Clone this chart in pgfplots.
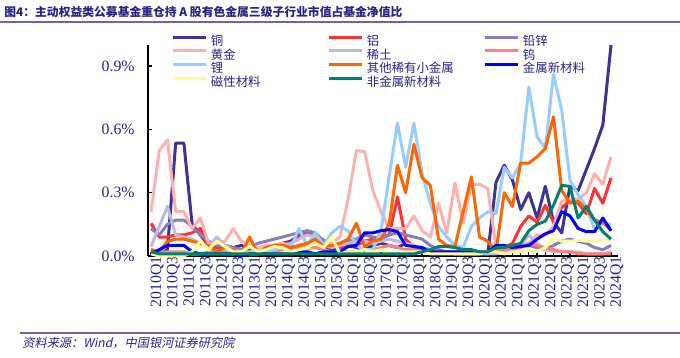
\documentclass[border=0pt]{standalone}
\usepackage{pgfplots}
\pgfplotsset{compat=1.18}
\usepackage{pgfplotstable}
\usepackage{fontspec}
\setmainfont{Liberation Serif}
\newfontfamily\cjk{Noto Sans CJK SC}
\newfontfamily\cjkit{Noto Sans CJK SC}[FakeSlant=0.2]
\definecolor{navy}{RGB}{38,38,130}
\definecolor{cCu}{RGB}{60,52,146}
\definecolor{cAl}{RGB}{255,51,51}
\definecolor{cPZ}{RGB}{136,126,190}
\definecolor{cAu}{RGB}{255,176,176}
\definecolor{cRE}{RGB}{190,185,222}
\definecolor{cW}{RGB}{255,128,128}
\definecolor{cLi}{RGB}{153,204,255}
\definecolor{cOM}{RGB}{255,102,0}
\definecolor{cMM}{RGB}{0,0,255}
\definecolor{cMag}{RGB}{255,255,153}
\definecolor{cNM}{RGB}{0,128,110}
\definecolor{rule}{RGB}{110,100,170}
\newcommand{\legtxt}[1]{\hspace*{1.5pt}\makebox[56pt][l]{\cjk #1}}

\pgfplotstableread{
i cu al pz au re w li om mm mag nm
0 0.02 0.155 0.13 0.21 0.045 0.03 0.01 0.03 0.01 0.01 0.02
1 0.01 0.09 0.10 0.50 0.14 0.02 0.01 0.02 0.03 0.00 0.01
2 0.03 0.09 0.15 0.55 0.235 0.02 0.01 0.07 0.05 0.00 0.01
3 0.535 0.10 0.17 0.21 0.10 0.02 0.01 0.08 0.05 0.00 0.01
4 0.535 0.10 0.17 0.21 0.09 0.02 0.01 0.08 0.05 0.00 0.01
5 0.15 0.11 0.14 0.13 0.08 0.01 0.01 0.07 0.02 0.02 0.01
6 0.10 0.13 0.10 0.18 0.06 0.01 0.01 0.06 0.01 0.07 0.01
7 0.05 0.04 0.07 0.06 0.04 0.02 0.01 0.05 0.01 0.03 0.01
8 0.04 0.04 0.05 0.06 0.09 0.02 0.01 0.02 0.01 0.07 0.01
9 0.05 0.04 0.05 0.07 0.05 0.02 0.01 0.04 0.01 0.045 0.01
10 0.04 0.03 0.04 0.13 0.03 0.01 0.01 0.03 0.01 0.02 0.01
11 0.05 0.02 0.03 0.07 0.02 0.01 0.01 0.01 0.00 0.02 0.01
12 0.03 0.02 0.04 0.05 0.02 0.01 0.01 0.09 0.01 0.045 0.01
13 0.02 0.03 0.06 0.04 0.03 0.01 0.01 0.01 0.01 0.02 0.01
14 0.03 0.04 0.07 0.05 0.03 0.02 0.02 0.04 0.01 0.03 0.01
15 0.04 0.05 0.08 0.05 0.04 0.02 0.03 0.05 0.01 0.045 0.01
16 0.06 0.06 0.09 0.06 0.05 0.03 0.04 0.05 0.01 0.04 0.01
17 0.07 0.06 0.10 0.05 0.06 0.03 0.04 0.04 0.01 0.02 0.01
18 0.10 0.09 0.11 0.04 0.08 0.04 0.13 0.05 0.02 0.03 0.01
19 0.11 0.11 0.12 0.03 0.10 0.05 0.05 0.06 0.02 0.04 0.01
20 0.09 0.10 0.11 0.04 0.09 0.04 0.11 0.08 0.01 0.06 0.01
21 0.05 0.075 0.07 0.04 0.05 0.03 0.05 0.045 0.02 0.04 0.01
22 0.03 0.05 0.05 0.06 0.04 0.02 0.11 0.05 0.02 0.09 0.01
23 0.04 0.04 0.06 0.09 0.05 0.02 0.14 0.06 0.02 0.01 0.01
24 0.05 0.05 0.07 0.27 0.06 0.02 0.12 0.08 0.045 0.02 0.01
25 0.04 0.05 0.08 0.50 0.07 0.02 0.05 0.155 0.05 0.02 0.01
26 0.03 0.07 0.10 0.495 0.07 0.03 0.03 0.045 0.11 0.03 0.01
27 0.05 0.08 0.09 0.31 0.06 0.03 0.03 0.07 0.11 0.02 0.01
28 0.06 0.09 0.08 0.21 0.07 0.04 0.12 0.08 0.12 0.03 0.01
29 0.05 0.10 0.10 0.13 0.08 0.05 0.38 0.155 0.125 0.02 0.01
30 0.04 0.28 0.11 0.13 0.07 0.04 0.63 0.43 0.115 0.01 0.01
31 0.06 0.08 0.10 0.13 0.06 0.03 0.42 0.30 0.05 0.02 0.01
32 0.05 0.04 0.09 0.19 0.05 0.03 0.63 0.53 0.045 0.02 0.01
33 0.03 0.03 0.08 0.12 0.04 0.02 0.39 0.37 0.04 0.02 0.02
34 0.02 0.03 0.05 0.09 0.03 0.02 0.25 0.335 0.02 0.01 0.03
35 0.02 0.02 0.03 0.25 0.02 0.02 0.14 0.08 0.02 0.01 0.045
36 0.02 0.02 0.02 0.11 0.02 0.02 0.09 0.05 0.02 0.01 0.045
37 0.01 0.02 0.02 0.345 0.02 0.01 0.05 0.045 0.02 0.01 0.04
38 0.01 0.02 0.02 0.155 0.01 0.01 0.04 0.21 0.02 0.01 0.03
39 0.01 0.02 0.02 0.34 0.01 0.02 0.14 0.375 0.02 0.01 0.03
40 0.01 0.02 0.02 0.34 0.01 0.02 0.18 0.09 0.01 0.01 0.02
41 0.01 0.02 0.01 0.32 0.01 0.02 0.21 0.07 0.02 0.02 0.02
42 0.35 0.02 0.02 0.04 0.01 0.03 0.20 0.02 0.05 0.02 0.04
43 0.43 0.04 0.03 0.03 0.02 0.03 0.42 0.30 0.05 0.01 0.04
44 0.36 0.06 0.04 0.03 0.03 0.03 0.37 0.235 0.04 0.02 0.05
45 0.22 0.14 0.05 0.05 0.05 0.04 0.44 0.44 0.045 0.02 0.06
46 0.30 0.19 0.05 0.06 0.10 0.06 0.80 0.44 0.05 0.03 0.12
47 0.18 0.16 0.04 0.10 0.06 0.05 0.565 0.47 0.08 0.02 0.15
48 0.33 0.24 0.03 0.10 0.03 0.04 0.51 0.51 0.105 0.04 0.165
49 0.16 0.16 0.05 0.14 0.02 0.03 0.86 0.66 0.12 0.085 0.24
50 0.11 0.23 0.07 0.26 0.02 0.02 0.69 0.31 0.21 0.07 0.335
51 0.33 0.26 0.08 0.27 0.02 0.02 0.36 0.25 0.19 0.07 0.33
52 0.31 0.25 0.07 0.27 0.02 0.01 0.29 0.26 0.13 0.075 0.18
53 0.41 0.20 0.06 0.30 0.01 0.01 0.235 0.22 0.115 0.07 0.235
54 0.51 0.32 0.04 0.39 0.01 0.01 0.125 0.17 0.115 0.07 0.17
55 0.62 0.25 0.03 0.34 0.01 0.01 0.155 0.16 0.18 0.075 0.115
56 1.00 0.37 0.05 0.47 0.02 0.01 0.15 0.12 0.12 0.08 0.08
}\datatable

\begin{document}
\begin{tikzpicture}[x=1pt,y=1pt]
\useasboundingbox (0,0) rectangle (340,179);
% title
\node[anchor=west,inner sep=0pt,text=navy,font=\fontsize{5.9pt}{6pt}\selectfont\cjk\bfseries] at (2,173) {图4：主动权益类公募基金重仓持 A 股有色金属三级子行业市值占基金净值比};
\draw[rule,line width=0.7pt] (0,168) -- (340,168);
% footer
\draw[rule,line width=0.6pt] (10,12.5) -- (340,12.5);
\node[anchor=west,inner sep=0pt,text=navy,font=\fontsize{6.1pt}{6.2pt}\selectfont\cjkit] at (11,7.5) {资料来源：Wind，中国银河证券研究院};
\begin{axis}[
  at={(74pt,51pt)}, anchor=south west,
  scale only axis, width=235pt, height=105.5pt,
  xmin=-0.37, xmax=56.85, ymin=0, ymax=1.0,
  axis x line=bottom, axis y line=left,
  axis line style={-, black, line width=0.75pt},
  clip=false,
  xtick={0,2,...,56},
  minor xtick={1,3,...,55},
  xticklabels={2010Q1,2010Q3,2011Q1,2011Q3,2012Q1,2012Q3,2013Q1,2013Q3,2014Q1,2014Q3,2015Q1,2015Q3,2016Q1,2016Q3,2017Q1,2017Q3,2018Q1,2018Q3,2019Q1,2019Q3,2020Q1,2020Q3,2021Q1,2021Q3,2022Q1,2022Q3,2023Q1,2023Q3,2024Q1},
  xticklabel style={rotate=90, anchor=east, inner sep=0pt, xshift=0pt, yshift=-3pt, text=navy, font=\fontsize{7.9pt}{8pt}\selectfont},
  ytick={0,0.3,0.6,0.9},
  yticklabels={0.0\%,0.3\%,0.6\%,0.9\%},
  yticklabel style={anchor=east, inner sep=0pt, xshift=-6.5pt, text=navy, font=\fontsize{7.9pt}{8pt}\selectfont},
  /pgf/number format/assume math mode=true,
  tick align=inside,
  major tick length=1.8pt, minor tick length=1.6pt,
  every tick/.style={black, line width=0.6pt},
  legend columns=3,
  legend style={at={(0.051,1.048)}, anchor=north west, draw=none, fill=none,
    inner sep=0pt, outer sep=0pt, row sep=0pt,
    font=\fontsize{6.2pt}{6.8pt}\selectfont, text=navy,
    nodes={inner sep=0pt, text height=5.3pt, text depth=1.5pt},
    /tikz/every even column/.append style={column sep=2.5pt}},
  legend image code/.code={\draw[line width=1.5pt] (0pt,2.2pt) -- (16.5pt,2.2pt);},
  every axis plot/.append style={line width=1.5pt, line join=round},
]
\addplot[cCu] table[x=i,y=cu]{\datatable}; \addlegendentry{\legtxt{铜}}
\addplot[cAl] table[x=i,y=al]{\datatable}; \addlegendentry{\legtxt{铝}}
\addplot[cPZ] table[x=i,y=pz]{\datatable}; \addlegendentry{\legtxt{铅锌}}
\addplot[cAu] table[x=i,y=au]{\datatable}; \addlegendentry{\legtxt{黄金}}
\addplot[cRE] table[x=i,y=re]{\datatable}; \addlegendentry{\legtxt{稀土}}
\addplot[cW] table[x=i,y=w]{\datatable}; \addlegendentry{\legtxt{钨}}
\addplot[cLi] table[x=i,y=li]{\datatable}; \addlegendentry{\legtxt{锂}}
\addplot[cOM] table[x=i,y=om]{\datatable}; \addlegendentry{\legtxt{其他稀有小金属}}
\addplot[cMM] table[x=i,y=mm]{\datatable}; \addlegendentry{\legtxt{金属新材料}}
\addplot[cMag] table[x=i,y=mag]{\datatable}; \addlegendentry{\legtxt{磁性材料}}
\addplot[cNM] table[x=i,y=nm]{\datatable}; \addlegendentry{\legtxt{非金属新材料}}
\end{axis}
\end{tikzpicture}
\end{document}
